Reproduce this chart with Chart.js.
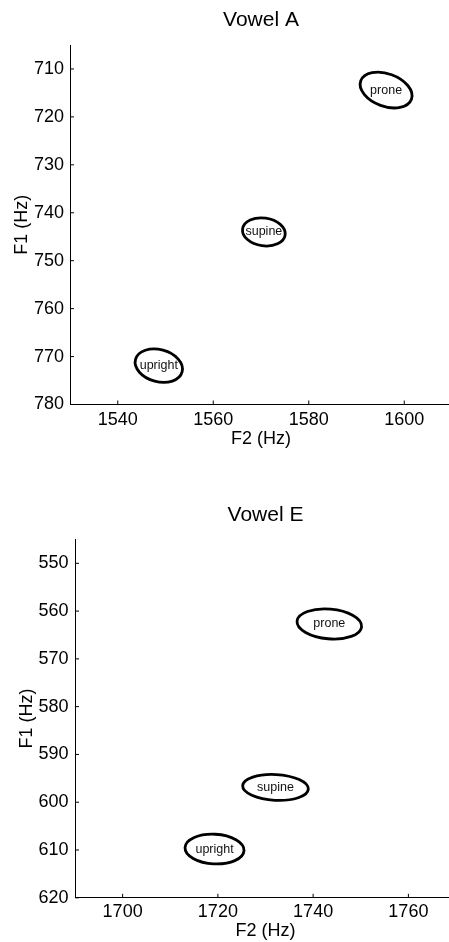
<!DOCTYPE html>
<html>
<head>
<meta charset="utf-8">
<script src="https://cdn.jsdelivr.net/npm/chart.js@4/dist/chart.umd.min.js"></script>
<style>
  html, body { margin: 0; padding: 0; background: #fff; overflow: hidden; width: 449px; height: 942px; }
  .box { position: absolute; left: 0; }
  #boxA { top: 0; }
  #boxE { top: 470px; }
</style>
</head>
<body>
<div class="box" id="boxA"><canvas id="chartA" width="462" height="450"></canvas></div>
<div class="box" id="boxE"><canvas id="chartE" width="465" height="472"></canvas></div>
<script>
// posture conditions, same order for both vowels
const conditions = ['upright', 'supine', 'prone'];

// Vowel A: ellipse centres (Hz), spread (Hz) and tilt (deg)
const vowelA_F2 = [1548.6, 1570.6, 1596.2];
const vowelA_F1 = [771.9, 744.0, 714.4];
const vowelA_F2spread = [5.05, 4.5, 5.65];
const vowelA_F1spread = [3.35, 2.9, 3.4];
const vowelA_tilt = [15, 8, 20];
const vowelA_xTicks = [1540, 1560, 1580, 1600];
const vowelA_yTicks = [710, 720, 730, 740, 750, 760, 770, 780];

// Vowel E
const vowelE_F2 = [1719.3, 1732.1, 1743.4];
const vowelE_F1 = [609.8, 596.9, 562.7];
const vowelE_F2spread = [6.2, 6.9, 6.8];
const vowelE_F1spread = [3.1, 2.7, 3.1];
const vowelE_tilt = [3, 3, 5];
const vowelE_xTicks = [1700, 1720, 1740, 1760];
const vowelE_yTicks = [550, 560, 570, 580, 590, 600, 610, 620];

const FONT = "'Liberation Sans', Arial, Helvetica, sans-serif";

// draws each point as an outlined ellipse with its label, plus inward tick marks
const ellipsePlugin = {
  id: 'ellipses',
  afterDatasetsDraw(chart) {
    const { ctx, scales: { x, y }, chartArea } = chart;
    ctx.save();
    // inward ticks
    ctx.strokeStyle = '#000'; ctx.lineWidth = 1;
    x.ticks.forEach(t => {
      const px = x.getPixelForValue(t.value);
      ctx.beginPath(); ctx.moveTo(px, chartArea.bottom); ctx.lineTo(px, chartArea.bottom - 4); ctx.stroke();
    });
    y.ticks.forEach(t => {
      const py = y.getPixelForValue(t.value);
      ctx.beginPath(); ctx.moveTo(chartArea.left, py); ctx.lineTo(chartArea.left + 4, py); ctx.stroke();
    });
    chart.data.datasets[0].data.forEach(p => {
      const cx = x.getPixelForValue(p.x), cy = y.getPixelForValue(p.y);
      const rx = Math.abs(x.getPixelForValue(p.x + p.rx) - cx);
      const ry = Math.abs(y.getPixelForValue(p.y + p.ry) - cy);
      ctx.beginPath();
      ctx.ellipse(cx, cy, rx, ry, p.tilt * Math.PI / 180, 0, Math.PI * 2);
      ctx.lineWidth = 2.8; ctx.strokeStyle = '#000'; ctx.stroke();
      ctx.fillStyle = '#111';
      ctx.font = '12.5px ' + FONT;
      ctx.textAlign = 'center'; ctx.textBaseline = 'middle';
      ctx.fillText(p.label, cx, cy);
    });
    ctx.restore();
  }
};

function makeChart(id, opts) {
  const pts = conditions.map((c, i) => ({
    x: opts.f2[i], y: opts.f1[i], rx: opts.f2s[i], ry: opts.f1s[i], tilt: opts.tilt[i], label: c
  }));
  return new Chart(document.getElementById(id), {
    type: 'scatter',
    data: { datasets: [{ data: pts, pointRadius: 0, pointHoverRadius: 0 }] },
    plugins: [ellipsePlugin],
    options: {
      responsive: false, animation: false, devicePixelRatio: 1,
      layout: { padding: { left: 0, right: opts.padRight, top: 0, bottom: 0 } },
      plugins: {
        legend: { display: false }, tooltip: { enabled: false },
        title: { display: true, text: opts.title, color: '#000', fullSize: false,
          font: { family: FONT, size: 21, weight: 'normal' },
          padding: { top: opts.titleTop, bottom: opts.titleBottom } }
      },
      scales: {
        x: {
          type: 'linear', min: opts.xMin, max: opts.xMax,
          afterBuildTicks: s => { s.ticks = opts.xTicks.map(v => ({ value: v })); },
          afterFit: s => { s.height = opts.xHeight; },
          grid: { display: true, drawOnChartArea: false, drawTicks: false },
          border: { display: true, color: '#000', width: 1 },
          ticks: { color: '#000', padding: opts.xPad, font: { family: FONT, size: 18 }, maxRotation: 0, callback: v => String(v) },
          title: { display: true, text: 'F2 (Hz)', color: '#000', font: { family: FONT, size: 18 }, padding: { top: 0, bottom: 0 } }
        },
        y: {
          type: 'linear', reverse: true, min: opts.yMin, max: opts.yMax,
          afterBuildTicks: s => { s.ticks = opts.yTicks.map(v => ({ value: v })); },
          afterFit: s => { s.width = opts.yWidth; },
          grid: { display: true, drawOnChartArea: false, drawTicks: false },
          border: { display: true, color: '#000', width: 1 },
          ticks: { color: '#000', padding: opts.yPad, font: { family: FONT, size: 18 }, callback: v => String(v) },
          title: { display: true, text: 'F1 (Hz)', color: '#000', font: { family: FONT, size: 18 }, padding: { top: opts.yTitlePad, bottom: 0 } }
        }
      }
    }
  });
}

// title font 21 -> line height 25.2
makeChart('chartA', {
  title: 'Vowel A', f2: vowelA_F2, f1: vowelA_F1, f2s: vowelA_F2spread, f1s: vowelA_F1spread, tilt: vowelA_tilt,
  xMin: 1530, xMax: 1610, yMin: 705, yMax: 780, xTicks: vowelA_xTicks, yTicks: vowelA_yTicks,
  padRight: 10, titleTop: 7.4, titleBottom: 12.4, xHeight: 45.5, yWidth: 70, xPad: 5, yPad: 6, yTitlePad: 11.7
});

makeChart('chartE', {
  title: 'Vowel E', f2: vowelE_F2, f1: vowelE_F1, f2s: vowelE_F2spread, f1s: vowelE_F1spread, tilt: vowelE_tilt,
  xMin: 1690, xMax: 1770, yMin: 545, yMax: 620, xTicks: vowelE_xTicks, yTicks: vowelE_yTicks,
  padRight: 9, titleTop: 32.4, titleBottom: 11.8, xHeight: 44.2, yWidth: 75, xPad: 3.1, yPad: 6.5, yTitlePad: 16.2
});
</script>
</body>
</html>
